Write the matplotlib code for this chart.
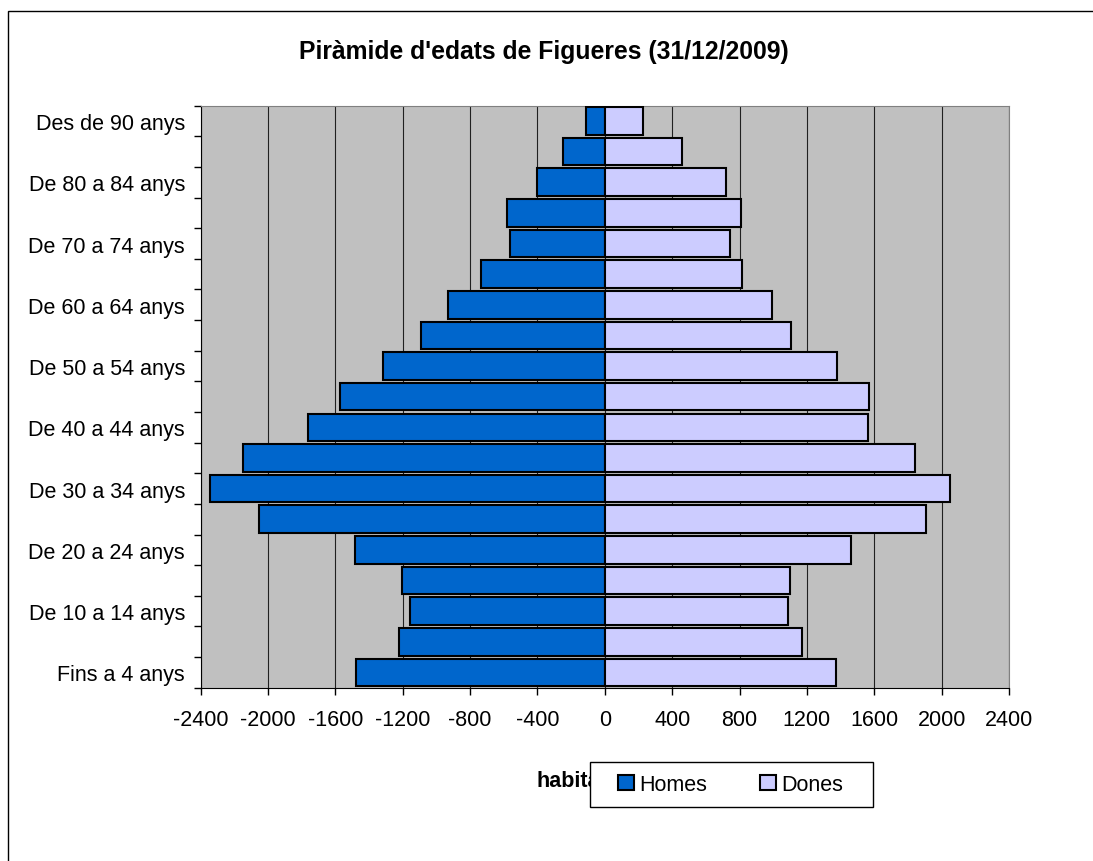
import numpy as np
import matplotlib
matplotlib.use('Agg')
from matplotlib import pyplot as plt
from matplotlib.patches import Rectangle, Patch

plt.rcParams['font.family'] = ['Liberation Sans', 'DejaVu Sans']
plt.rcParams['axes.unicode_minus'] = False

# dades: piràmide d'edats, de 0-4 anys fins a 90+
grups = ['Fins a 4 anys', 'De 5 a 9 anys', 'De 10 a 14 anys', 'De 15 a 19 anys',
         'De 20 a 24 anys', 'De 25 a 29 anys', 'De 30 a 34 anys', 'De 35 a 39 anys',
         'De 40 a 44 anys', 'De 45 a 49 anys', 'De 50 a 54 anys', 'De 55 a 59 anys',
         'De 60 a 64 anys', 'De 65 a 69 anys', 'De 70 a 74 anys', 'De 75 a 79 anys',
         'De 80 a 84 anys', 'De 85 a 89 anys', 'Des de 90 anys']
homes = [1480, 1220, 1155, 1205, 1485, 2055, 2345, 2150, 1765, 1575,
         1320, 1090, 930, 735, 565, 580, 400, 250, 110]
dones = [1375, 1170, 1090, 1100, 1460, 1905, 2050, 1840, 1565, 1570,
         1380, 1105, 990, 815, 745, 810, 720, 460, 225]
xticks = list(range(-2400, 2401, 400))

W, H = 1093, 862
fig = plt.figure(figsize=(W / 100, H / 100), dpi=100)

# vora del gràfic (sobresurt per la dreta i per baix)
fig.patches.append(Rectangle((8 / W, -0.05), 1.2, 1 - 12 / H + 0.05, transform=fig.transFigure,
                             fill=False, edgecolor='black', linewidth=1, zorder=0))

x0, x1 = 200.7, 1009
y0, y1 = 106.7, 688.7
ax = fig.add_axes([x0 / W, 1 - y1 / H, (x1 - x0) / W, (y1 - y0) / H])
ax.set_facecolor('#C0C0C0')

y = np.arange(len(grups))
ax.barh(y, -np.array(homes), height=0.9, color='#0066CC', edgecolor='black', linewidth=1.5, zorder=3)
ax.barh(y, dones, height=0.9, color='#CCCCFF', edgecolor='black', linewidth=1.5, zorder=3)

ax.set_xlim(-2400, 2400)
ax.set_ylim(-0.5, len(grups) - 0.5)
ax.set_xticks(xticks)
ax.set_xticklabels([str(v) for v in xticks], fontsize=15.5)
ax.xaxis.grid(True, color='#202020', linewidth=0.8)
ax.set_axisbelow(True)
ax.tick_params(axis='x', direction='out', length=5, width=1, pad=10)

# ticks de la categoria als límits, etiquetes una de cada dues
ax.set_yticks(np.arange(-0.5, len(grups), 1))
ax.set_yticklabels([])
ax.set_yticks(y[::2], minor=True)
ax.set_yticklabels(grups[::2], minor=True, fontsize=15.5)
ax.tick_params(axis='y', which='major', direction='out', length=5, width=1)
ax.tick_params(axis='y', which='minor', length=0, pad=11.3)

for s in ['top', 'right']:
    ax.spines[s].set_color('#808080')
for s in ['left', 'bottom']:
    ax.spines[s].set_color('black')

fig.text(544 / W, 1 - 52 / H, "Piràmide d'edats de Figueres (31/12/2009)",
         ha='center', va='center', fontsize=17.8, fontweight='bold')
fig.text(537 / W, 1 - 786.7 / H, 'habitants', ha='left', va='baseline',
         fontsize=15.5, fontweight='bold', zorder=3)

# caixa de la llegenda que tapa part del títol de l'eix
fig.patches.append(Rectangle((590 / W, 1 - 808 / H), 282.7 / W, 45.3 / H, transform=fig.transFigure,
                             facecolor='white', edgecolor='black', linewidth=1, zorder=4))
handles = [Patch(facecolor='#0066CC', edgecolor='black', linewidth=1.5),
           Patch(facecolor='#CCCCFF', edgecolor='black', linewidth=1.5)]
leg = fig.legend(handles, ['Homes', 'Dones'], loc='center left', bbox_to_anchor=(618 / W, 1 - 785.5 / H),
                 ncol=2, frameon=False, fontsize=15.5, borderpad=0, borderaxespad=0,
                 handlelength=0.72, handleheight=0.72, handletextpad=0.28, columnspacing=2.45)
leg.set_zorder(5)

fig.savefig('out.png', dpi=100)
